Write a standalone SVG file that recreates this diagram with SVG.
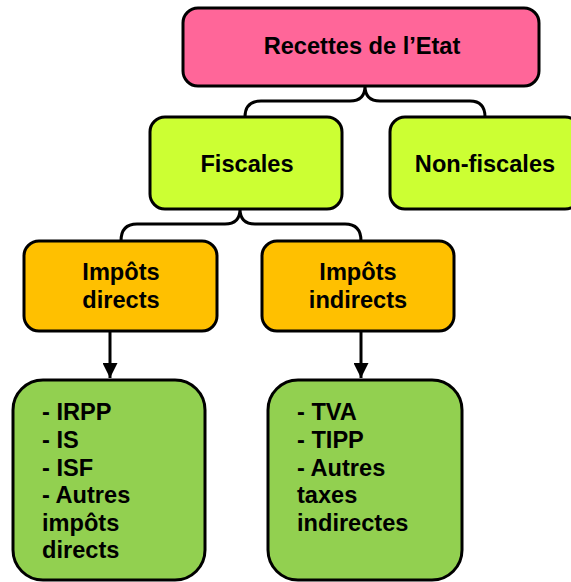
<svg xmlns="http://www.w3.org/2000/svg" width="571" height="582" viewBox="0 0 571 582">
<defs>
<style>
.box{stroke:#000;stroke-width:3}
.t{font-family:"Liberation Sans",Arial,sans-serif;font-weight:bold;font-size:23.6px;fill:#000}
.c{text-anchor:middle}
.con{fill:none;stroke:#000;stroke-width:3}
</style>
<marker id="ah" markerWidth="15" markerHeight="15" refX="15" refY="7.5" orient="auto" markerUnits="userSpaceOnUse" viewBox="0 0 15 15">
<path d="M0,0 L15,7.5 L0,15 Z" fill="#000"/>
</marker>
</defs>
<g id="connectors">
<path class="con" d="M245 117 Q245 101 261 101 L350 101 Q365 101 365 86 Q365 101 380 101 L470 101 Q485 101 485 117"/>
<path class="con" d="M121 241 Q121 224 137 224 L225 224 Q240 224 240 209 Q240 224 255 224 L345 224 Q361 224 361 241"/>
<line class="con" x1="110" y1="331" x2="110" y2="378" marker-end="url(#ah)"/>
<line class="con" x1="361" y1="331" x2="361" y2="378" marker-end="url(#ah)"/>
</g>
<g id="recettes">
<rect class="box" x="183" y="8" width="356" height="78" rx="15" fill="#FF6699"/>
<text class="t c" x="362" y="54">Recettes de l’Etat</text>
</g>
<g id="fiscales">
<rect class="box" x="150" y="117" width="192" height="92" rx="15" fill="#CCFF33"/>
<text class="t c" x="247" y="172">Fiscales</text>
</g>
<g id="nonfiscales">
<rect class="box" x="390" y="117" width="190" height="92" rx="15" fill="#CCFF33"/>
<text class="t c" x="485" y="172">Non-fiscales</text>
</g>
<g id="directs">
<rect class="box" x="24" y="241" width="193" height="90" rx="15" fill="#FFC000"/>
<text class="t c" x="121" y="280">Impôts</text>
<text class="t c" x="121" y="308">directs</text>
</g>
<g id="indirects">
<rect class="box" x="262" y="241" width="192" height="90" rx="15" fill="#FFC000"/>
<text class="t c" x="358" y="280">Impôts</text>
<text class="t c" x="358" y="308">indirects</text>
</g>
<g id="liste-directs">
<rect class="box" x="13" y="380" width="192" height="200" rx="30" fill="#92D050"/>
<text class="t" x="42" y="420">- IRPP</text>
<text class="t" x="42" y="448">- IS</text>
<text class="t" x="42" y="476">- ISF</text>
<text class="t" x="42" y="503">- Autres</text>
<text class="t" x="42" y="531">impôts</text>
<text class="t" x="42" y="558">directs</text>
</g>
<g id="liste-indirects">
<rect class="box" x="268" y="380" width="194" height="200" rx="30" fill="#92D050"/>
<text class="t" x="297" y="420">- TVA</text>
<text class="t" x="297" y="448">- TIPP</text>
<text class="t" x="297" y="476">- Autres</text>
<text class="t" x="297" y="503">taxes</text>
<text class="t" x="297" y="531">indirectes</text>
</g>
</svg>
